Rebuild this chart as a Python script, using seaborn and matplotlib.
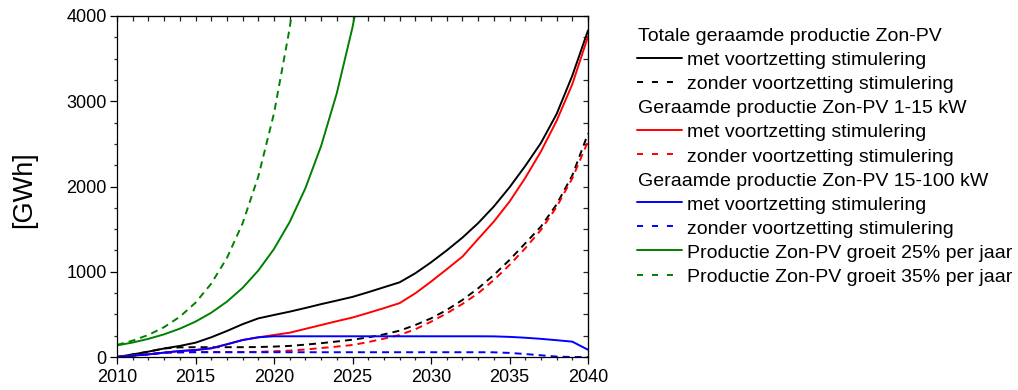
import matplotlib
matplotlib.use("Agg")
import matplotlib.pyplot as plt
import seaborn as sns
from matplotlib.lines import Line2D
from matplotlib.ticker import MultipleLocator

# ---------------- data (GWh) ----------------
years = list(range(2010, 2041))

total_met = [0, 30, 63, 100, 130, 168, 231, 305, 385, 453, 493, 532, 575, 620, 662,
             705, 760, 818, 876, 982, 1110, 1250, 1400, 1570, 1765, 1990, 2240, 2510,
             2850, 3300, 3830]
total_zonder = [0, 30, 63, 100, 113, 115, 115, 115, 115, 117, 122, 130, 145, 162, 182,
                203, 230, 265, 309, 375, 453, 551, 669, 805, 962, 1138, 1333, 1529,
                1790, 2130, 2620]
pv1_15_met = [0, 16, 31, 51, 70, 82, 102, 149, 199, 231, 258, 285, 330, 375, 420,
              463, 517, 573, 632, 747, 884, 1029, 1177, 1384, 1588, 1822, 2100, 2410,
              2770, 3200, 3760]
pv1_15_zonder = [0, 16, 31, 51, 56, 58, 58, 58, 58, 60, 67, 75, 88, 105, 122,
                 141, 175, 215, 258, 325, 414, 512, 622, 747, 903, 1079, 1275, 1490,
                 1760, 2096, 2530]
pv15_100_met = [0, 16, 31, 51, 70, 82, 102, 149, 199, 231, 243, 243, 243, 243, 243,
                243, 243, 243, 243, 243, 243, 243, 243, 243, 242, 236, 226, 213,
                197, 180, 85]
pv15_100_zonder = [0, 16, 31, 51, 55, 56, 56, 56, 56, 56, 56, 56, 56, 56, 56,
                   56, 56, 56, 56, 56, 56, 56, 56, 56, 55, 48, 35, 20, 5, 0, 0]

years_g25 = list(range(2010, 2027))
groei_25 = [136, 170, 213, 266, 332, 415, 519, 649, 811, 1014, 1267, 1584, 1980,
            2475, 3094, 3867, 4834]
years_g35 = list(range(2010, 2023))
groei_35 = [142, 192, 259, 350, 472, 637, 860, 1161, 1568, 2117, 2858, 3858, 5208]

legend_rows = [
    ("Totale geraamde productie Zon-PV", None, None),
    ("met voortzetting stimulering", "black", "-"),
    ("zonder voortzetting stimulering", "black", "--"),
    ("Geraamde productie Zon-PV 1-15 kW", None, None),
    ("met voortzetting stimulering", "red", "-"),
    ("zonder voortzetting stimulering", "red", "--"),
    ("Geraamde productie Zon-PV 15-100 kW", None, None),
    ("met voortzetting stimulering", "blue", "-"),
    ("zonder voortzetting stimulering", "blue", "--"),
    ("Productie Zon-PV groeit 25% per jaar", "green", "-"),
    ("Productie Zon-PV groeit 35% per jaar", "green", "--"),
]

# ---------------- style ----------------
sns.set_style("ticks")
plt.rcParams["font.family"] = ["Liberation Sans", "DejaVu Sans"]

W, H = 1018, 390
fig = plt.figure(figsize=(W / 100, H / 100), dpi=100)
ax = fig.add_axes([117 / W, 1 - 357 / H, 471 / W, 341 / H])

LW = 1.4
DASH = (0, (3.6, 2.6))
GREEN = "#008000"
COLS = {"black": "black", "red": "#ff0000", "blue": "#0000ff", "green": GREEN}

series = [
    (years, total_met, "black", "-"),
    (years, total_zonder, "black", DASH),
    (years, pv1_15_met, "red", "-"),
    (years, pv1_15_zonder, "red", DASH),
    (years, pv15_100_met, "blue", "-"),
    (years, pv15_100_zonder, "blue", DASH),
    (years_g25, groei_25, "green", "-"),
    (years_g35, groei_35, "green", DASH),
]
for xs, ys, c, ls in series:
    sns.lineplot(x=xs, y=ys, ax=ax, color=COLS[c], linewidth=LW, linestyle=ls,
                 legend=False)

ax.set_xlim(2010, 2040)
ax.set_ylim(0, 4000)
ax.set_xticks(range(2010, 2041, 5))
ax.set_yticks(range(0, 4001, 1000))
ax.xaxis.set_minor_locator(MultipleLocator(1))
ax.yaxis.set_minor_locator(MultipleLocator(250))
ax.set_xlabel("")
ax.set_ylabel("")

for sp in ax.spines.values():
    sp.set_visible(True)
    sp.set_linewidth(0.9)
    sp.set_color("black")

ax.tick_params(axis="both", which="major", direction="out", length=5, width=0.9,
               labelsize=13, colors="black", top=False, right=False)
ax.tick_params(axis="both", which="minor", direction="out", length=2.5, width=0.9,
               top=False, right=False)
ax.tick_params(axis="y", which="major", pad=2.5)
ax.tick_params(axis="x", which="major", pad=4)

secx = ax.secondary_xaxis("top")
secx.set_xticks(years, labels=[""] * len(years))
secx.tick_params(direction="in", length=3.5, width=0.9)
secy = ax.secondary_yaxis("right")
yt = list(range(0, 4001, 250))
secy.set_yticks(yt, labels=[""] * len(yt))
secy.tick_params(direction="in", length=3.5, width=0.9)

fig.text(24 / W, 1 - 190 / H, "[GWh]", rotation=90, ha="center", va="center",
         fontsize=19.5, color="black")

# ---------------- legend (drawn manually) ----------------
base0 = 41.0
step = 24.1
for i, (label, col, ls) in enumerate(legend_rows):
    yb = base0 + step * i
    if col is None:
        fig.text(638 / W, 1 - yb / H, label, ha="left", va="baseline",
                 fontsize=14, color="black")
    else:
        yl = 1 - (yb - 7.5) / H
        if ls == "-":
            fig.add_artist(Line2D([637 / W, 682 / W], [yl, yl], color=COLS[col],
                                  linewidth=LW, transform=fig.transFigure))
        else:
            fig.add_artist(Line2D([637 / W, 675 / W], [yl, yl], color=COLS[col],
                                  linewidth=LW, linestyle=(0, (3.1, 4.6)),
                                  transform=fig.transFigure))
        fig.text(687 / W, 1 - yb / H, label, ha="left", va="baseline",
                 fontsize=14, color="black")

fig.savefig("out.png", dpi=100)
